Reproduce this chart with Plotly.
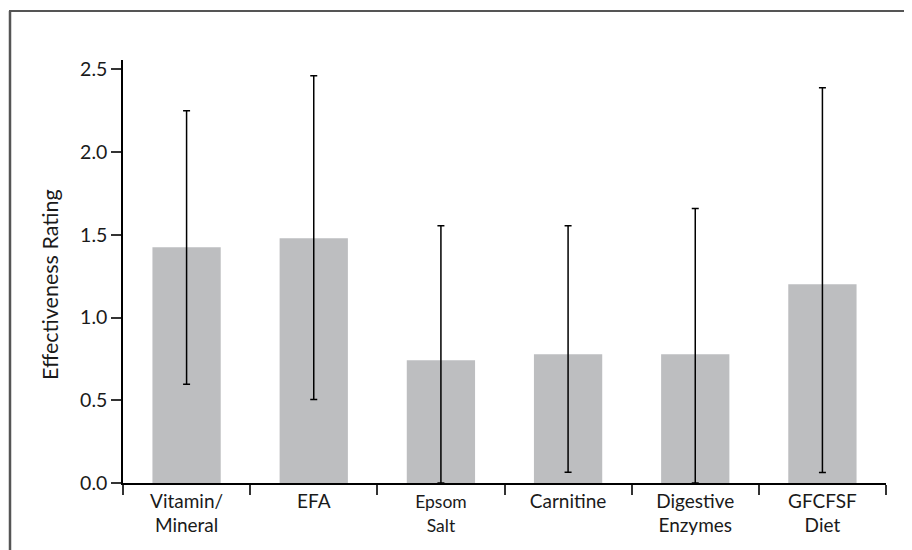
import plotly.graph_objects as go

categories = ["Vitamin/<br>Mineral", "EFA", "<span style=\"font-size:17.5px\">Epsom<br>Salt</span>",
              "Carnitine", "Digestive<br>Enzymes", "GFCFSF<br>Diet"]
means = [1.425, 1.479, 0.742, 0.778, 0.778, 1.201]
err_plus = [0.825, 0.982, 0.812, 0.776, 0.880, 1.188]
err_minus = [0.828, 0.974, 0.742, 0.713, 0.778, 1.138]
y_title = "Effectiveness Rating"

FONT = "Lato, Open Sans, sans-serif"

fig = go.Figure()
fig.add_trace(go.Bar(
    x=categories, y=means,
    marker=dict(color="#bdbec0", line=dict(width=0)),
    width=0.537,
    error_y=dict(type="data", symmetric=False, array=err_plus, arrayminus=err_minus,
                 color="#000000", thickness=1.5, width=3.5),
))

# page has an 8px body margin; figure coordinates = page - 8
W, H = 904, 542
L, R, T, B = 115, 26, 52, 67
pw, ph = W - L - R, H - T - B

def px_x(x):
    return (x - 8 - L) / pw

def px_y(y):
    return (H - B - (y - 8)) / ph

fig.update_layout(
    width=W, height=H,
    margin=dict(l=L, r=R, t=T, b=B),
    paper_bgcolor="white", plot_bgcolor="white",
    font=dict(family=FONT, size=19, color="#1a1a1a"),
    showlegend=False,
    xaxis=dict(
        showline=True, linecolor="#000000", linewidth=1.5,
        ticks="outside", tickson="boundaries", ticklen=10, tickwidth=1.5, tickcolor="#333333",
        tickfont=dict(size=19, family=FONT, color="#1a1a1a"),
        showgrid=False, zeroline=False,
    ),
    yaxis=dict(
        range=[0, 2.556], tickvals=[0, 0.5, 1.0, 1.5, 2.0, 2.5],
        ticktext=["0.0", "0.5", "1.0", "1.5", "2.0", "2.5"],
        showline=True, linecolor="#000000", linewidth=1.5,
        ticks="outside", ticklen=10, tickwidth=1.5, tickcolor="#333333",
        tickfont=dict(size=19.5, family=FONT, color="#1a1a1a"),
        showgrid=False, zeroline=False,
    ),
    annotations=[
        dict(text=y_title, xref="paper", yref="paper", x=px_x(50), y=px_y(285),
             xanchor="center", yanchor="middle", textangle=-90, showarrow=False,
             font=dict(size=21.5, family=FONT, color="#1a1a1a")),
    ],
    shapes=[
        dict(type="line", xref="paper", yref="paper", x0=px_x(9), x1=px_x(913), y0=px_y(11), y1=px_y(11),
             line=dict(color="#555555", width=2)),
        dict(type="line", xref="paper", yref="paper", x0=px_x(10), x1=px_x(10), y0=px_y(11), y1=px_y(551),
             line=dict(color="#555555", width=2.5)),
    ],
)

fig.write_html("out.html", config={"displayModeBar": False},
               post_script="document.body.style.overflow='hidden';")
